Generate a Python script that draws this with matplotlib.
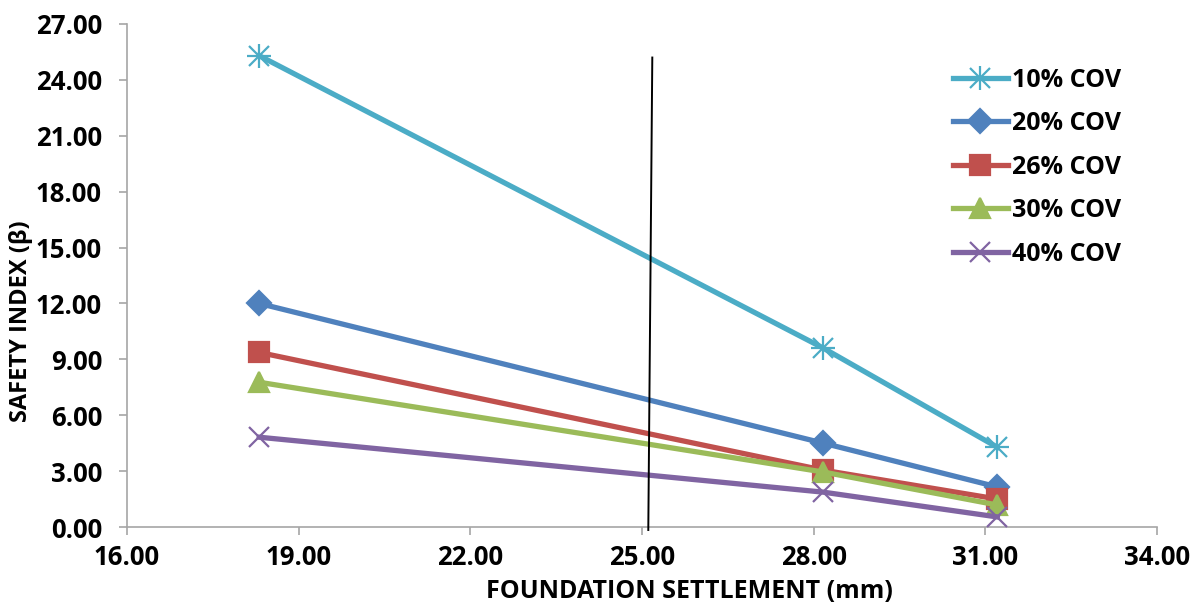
import matplotlib
matplotlib.use("Agg")
import matplotlib.pyplot as plt
from matplotlib.ticker import FormatStrFormatter
from matplotlib.lines import Line2D

plt.rcParams['font.family'] = ['Open Sans', 'DejaVu Sans']
plt.rcParams['font.weight'] = 'bold'

# data
settlement = [18.31, 28.17, 31.21]
series_names = ['10% COV', '20% COV', '26% COV', '30% COV', '40% COV']
beta_10 = [25.3, 9.6, 4.28]
beta_20 = [12.0, 4.5, 2.15]
beta_26 = [9.37, 3.05, 1.5]
beta_30 = [7.77, 2.95, 1.18]
beta_40 = [4.82, 1.87, 0.54]
limit_x = [25.18, 25.11]
limit_y = [25.2, -0.16]

colors = ['#4BACC6', '#4F81BD', '#C0504D', '#9BBB59', '#8064A2']
markers = ['x', 'D', 's', '^', 'x']
msizes = [14, 12, 14, 14, 14]

W, H = 1198, 605
fig = plt.figure(figsize=(W / 100, H / 100), dpi=100)
ax = fig.add_axes([127 / W, 1 - 527 / H, 1030 / W, 503 / H])

for ys, name, c, m, ms in zip([beta_10, beta_20, beta_26, beta_30, beta_40],
                              series_names, colors, markers, msizes):
    ax.plot(settlement, ys, color=c, lw=3.8, marker=m, ms=ms, mew=1.6,
            label=name, clip_on=False, zorder=3)
# extra arms for the asterisk marker of 10% COV
ax.plot(settlement, beta_10, ls='none', marker='+', ms=17, mew=1.6,
        color=colors[0], clip_on=False, zorder=3)

ax.plot(limit_x, limit_y, color='black', lw=1.4, clip_on=False, zorder=4)

ax.set_xlim(16, 34)
ax.set_ylim(0, 27)
ax.set_xticks([16, 19, 22, 25, 28, 31, 34])
ax.set_yticks([0, 3, 6, 9, 12, 15, 18, 21, 24, 27])
ax.xaxis.set_major_formatter(FormatStrFormatter('%.2f'))
ax.yaxis.set_major_formatter(FormatStrFormatter('%.2f'))
for lab in ax.get_xticklabels() + ax.get_yticklabels():
    lab.set_fontweight('bold')
    lab.set_fontsize(18.5)

for s in ['top', 'right']:
    ax.spines[s].set_visible(False)
for s in ['left', 'bottom']:
    ax.spines[s].set_color('#A6A6A6')
    ax.spines[s].set_linewidth(1.2)
ax.tick_params(axis='both', direction='out', color='#A6A6A6', length=6, width=1.2)
ax.tick_params(axis='x', pad=6)
ax.tick_params(axis='y', pad=12)

# axis titles sit off-centre in the reference, so place them directly
fig.text(689 / W, 1 - 592 / H, 'FOUNDATION SETTLEMENT (mm)', fontsize=18,
         fontweight='bold', ha='center', va='center')
fig.text(21 / W, 1 - 321 / H, 'SAFETY INDEX (\u03b2)', fontsize=17,
         fontweight='bold', ha='center', va='center', rotation=90)

handles = []
for name, c, m, ms in zip(series_names, colors, markers, msizes):
    handles.append(Line2D([], [], color=c, lw=3.8, marker=m, ms=ms, mew=1.6))
handles[0] = (Line2D([], [], color=colors[0], lw=3.8, marker='x', ms=14, mew=1.6),
              Line2D([], [], ls='none', color=colors[0], marker='+', ms=17, mew=1.6))
leg = ax.legend(handles, series_names, loc='upper left', bbox_to_anchor=(0.78, 0.958),
                frameon=False, prop={'weight': 'bold', 'size': 18},
                handlelength=2.2, labelspacing=0.74, handletextpad=0.15)

fig.savefig('out.png', dpi=100)
